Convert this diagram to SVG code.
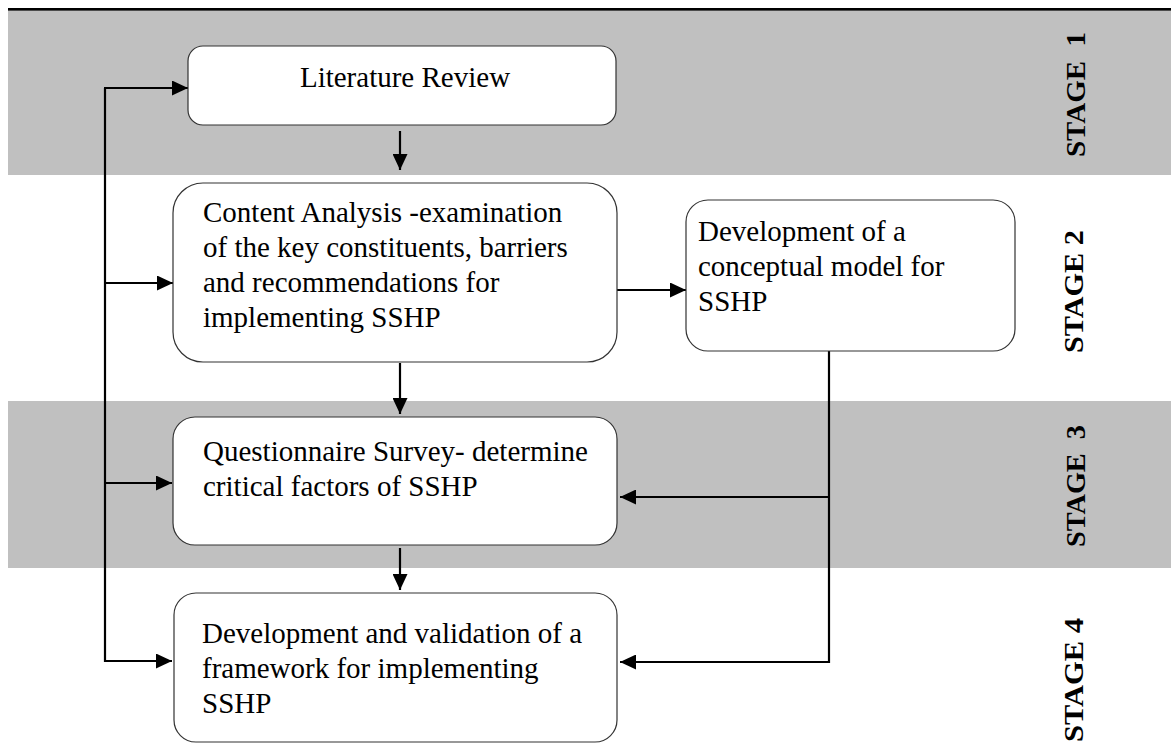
<svg xmlns="http://www.w3.org/2000/svg" width="1171" height="744" viewBox="0 0 1171 744">
  <style>
    .band { fill: #c0c0c0; }
    .box { fill: #ffffff; stroke: #333333; stroke-width: 1.2; }
    .label { font-family: "Liberation Serif", "Times New Roman", serif; font-size: 29px; fill: #000000; }
    .stage { font-family: "Liberation Serif", "Times New Roman", serif; font-size: 28px; font-weight: bold; fill: #000000; }
    .wire { fill: none; stroke: #000000; stroke-width: 2.2; }
  </style>
  <defs>
    <marker id="arrow" viewBox="0 0 16 15" refX="16" refY="7.5" markerWidth="16" markerHeight="15" markerUnits="userSpaceOnUse" orient="auto">
      <path d="M0,0 L16,7.5 L0,15 Z" fill="#000000"/>
    </marker>
  </defs>

  <!-- background bands and top rule -->
  <rect class="band" x="8" y="10" width="1163" height="165"/>
  <rect class="band" x="8" y="401" width="1163" height="167"/>
  <rect x="8" y="8" width="1163" height="2.6" fill="#000000"/>

  <!-- stage labels -->
  <g id="stage-labels">
    <text class="stage" xml:space="preserve" transform="translate(1085,157) rotate(-90)" textLength="125" lengthAdjust="spacingAndGlyphs">STAGE  1</text>
    <text class="stage" transform="translate(1083,353) rotate(-90)" textLength="123" lengthAdjust="spacingAndGlyphs">STAGE 2</text>
    <text class="stage" xml:space="preserve" transform="translate(1085,547) rotate(-90)" textLength="122" lengthAdjust="spacingAndGlyphs">STAGE  3</text>
    <text class="stage" transform="translate(1083,742) rotate(-90)" textLength="124" lengthAdjust="spacingAndGlyphs">STAGE 4</text>
  </g>

  <!-- connectors -->
  <g id="connectors">
    <!-- feedback spine on the left -->
    <path class="wire" d="M105,88 L105,662"/>
    <path class="wire" d="M104,88 L188,88" marker-end="url(#arrow)"/>
    <path class="wire" d="M104,283 L173,283" marker-end="url(#arrow)"/>
    <path class="wire" d="M104,483 L172,483" marker-end="url(#arrow)"/>
    <path class="wire" d="M104,661 L172,661" marker-end="url(#arrow)"/>
    <!-- main vertical flow -->
    <path class="wire" d="M400,131 L400,170" marker-end="url(#arrow)"/>
    <path class="wire" d="M400,363 L400,414" marker-end="url(#arrow)"/>
    <path class="wire" d="M400,548 L400,590" marker-end="url(#arrow)"/>
    <!-- content analysis to conceptual model -->
    <path class="wire" d="M617,290 L686,290" marker-end="url(#arrow)"/>
    <!-- conceptual model feeding later stages -->
    <path class="wire" d="M829,351 L829,663"/>
    <path class="wire" d="M830,497 L620,497" marker-end="url(#arrow)"/>
    <path class="wire" d="M830,662 L620,662" marker-end="url(#arrow)"/>
  </g>

  <!-- nodes -->
  <g id="literature-review">
    <rect class="box" x="188" y="46" width="428" height="79" rx="15" ry="15"/>
    <text class="label" x="405" y="87" text-anchor="middle">Literature Review</text>
  </g>

  <g id="content-analysis">
    <rect class="box" x="173" y="183" width="444" height="179" rx="30" ry="30"/>
    <text class="label" x="203" y="222">Content Analysis -examination</text>
    <text class="label" x="203" y="257">of the key constituents, barriers</text>
    <text class="label" x="203" y="292">and recommendations for</text>
    <text class="label" x="203" y="327">implementing SSHP</text>
  </g>

  <g id="conceptual-model">
    <rect class="box" x="686" y="200" width="329" height="151" rx="22" ry="22"/>
    <text class="label" x="698" y="241">Development of a</text>
    <text class="label" x="698" y="276">conceptual model for</text>
    <text class="label" x="698" y="311">SSHP</text>
  </g>

  <g id="questionnaire-survey">
    <rect class="box" x="173" y="417" width="444" height="128" rx="22" ry="22"/>
    <text class="label" x="203" y="461">Questionnaire Survey- determine</text>
    <text class="label" x="203" y="496">critical factors of SSHP</text>
  </g>

  <g id="framework-development">
    <rect class="box" x="174" y="593" width="443" height="149" rx="22" ry="22"/>
    <text class="label" x="202" y="643">Development and validation of a</text>
    <text class="label" x="202" y="678">framework for implementing</text>
    <text class="label" x="202" y="713">SSHP</text>
  </g>
</svg>
